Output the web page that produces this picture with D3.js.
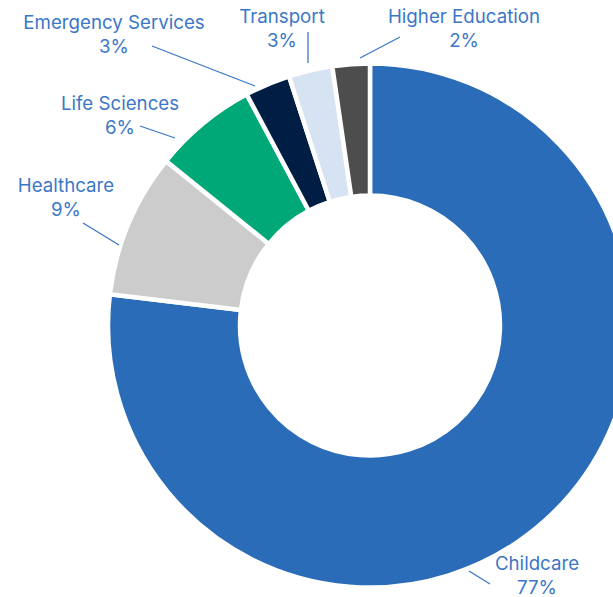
<!DOCTYPE html>
<html>
<head>
<meta charset="utf-8">
<script src="https://cdn.jsdelivr.net/npm/d3@7/dist/d3.min.js"></script>
<style>
  html, body { margin: 0; padding: 0; background: #fff; overflow: hidden; }
  svg { display: block; }
  text { font-family: Inter, "Noto Sans", sans-serif; }
</style>
</head>
<body>
<svg id="chart" width="613" height="597"></svg>
<script>
// ---- data ----
const categories = ["Childcare", "Healthcare", "Life Sciences", "Emergency Services", "Transport", "Higher Education"];
const shares = [76.9, 8.9, 6.4, 2.8, 2.7, 2.3];
const shareLabels = ["77%", "9%", "6%", "3%", "3%", "2%"];  // labels as printed
const colors = ["#2b6cb9", "#cccccc", "#00a878", "#001d44", "#d5e3f3", "#4d4d4d"];

// ---- label layout: text centre + first baseline, leader line label end and ring end ----
const labelLayout = [
  { tx: 537, ty: 570, x1: 490, y1: 584, x2: 469, y2: 571 },
  { tx: 66,  ty: 192, x1: 83,  y1: 223, x2: 119, y2: 245 },
  { tx: 120, ty: 110, x1: 140, y1: 126, x2: 175, y2: 138 },
  { tx: 114, ty: 29,  x1: 152, y1: 46,  x2: 255, y2: 86 },
  { tx: 282, ty: 23,  x1: 308, y1: 32,  x2: 308, y2: 63 },
  { tx: 464, ty: 23,  x1: 400, y1: 37,  x2: 360, y2: 58 }
];

const cx = 370, cy = 325.5;
const outerR = 262, innerR = 130;
const labelColor = "#3b77c6";

const svg = d3.select("#chart");
const g = svg.append("g").attr("transform", `translate(${cx},${cy})`);

const data = categories.map((c, i) => ({ name: c, value: shares[i], label: shareLabels[i], color: colors[i], layout: labelLayout[i] }));

const pie = d3.pie().value(d => d.value).sort(null).startAngle(0).endAngle(2 * Math.PI);
const arcs = pie(data);
const arc = d3.arc().innerRadius(innerR).outerRadius(outerR);

g.selectAll("path.slice")
  .data(arcs)
  .join("path")
  .attr("class", "slice")
  .attr("d", arc)
  .attr("fill", d => d.data.color)
  .attr("stroke", "#ffffff")
  .attr("stroke-width", 4.5)
  .attr("stroke-linejoin", "miter");

// leader lines
svg.append("g").selectAll("line")
  .data(data)
  .join("line")
  .attr("x1", d => d.layout.x1).attr("y1", d => d.layout.y1)
  .attr("x2", d => d.layout.x2).attr("y2", d => d.layout.y2)
  .attr("stroke", labelColor)
  .attr("stroke-width", 1.3);

// labels
const labels = svg.append("g");
data.forEach(d => {
  const t = labels.append("text")
    .attr("x", d.layout.tx)
    .attr("y", d.layout.ty)
    .attr("text-anchor", "middle")
    .attr("fill", labelColor)
    .attr("font-size", 18.7);
  t.append("tspan").attr("x", d.layout.tx).text(d.name);
  t.append("tspan").attr("x", d.layout.tx).attr("dy", 23.5).text(d.label);
});
</script>
</body>
</html>
